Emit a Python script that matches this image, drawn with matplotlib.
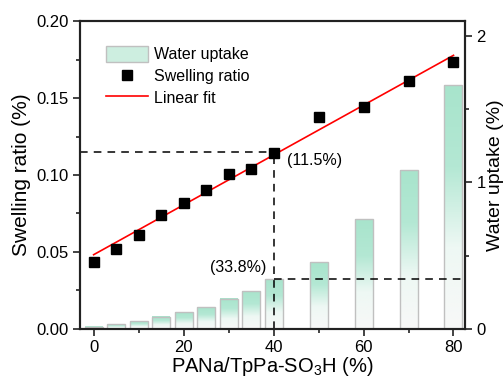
import numpy as np
import matplotlib
matplotlib.use('Agg')
import matplotlib.pyplot as plt
from matplotlib.colors import LinearSegmentedColormap
from matplotlib.patches import Patch
from matplotlib.lines import Line2D
from matplotlib.ticker import MultipleLocator

plt.rcParams['font.family'] = ['Liberation Sans', 'DejaVu Sans']
plt.rcParams['mathtext.fontset'] = 'custom'
plt.rcParams['mathtext.rm'] = 'Liberation Sans'
plt.rcParams['mathtext.it'] = 'Liberation Sans:italic'
plt.rcParams['mathtext.default'] = 'regular'

# データ
ratio = np.array([0, 5, 10, 15, 20, 25, 30, 35, 40, 50, 60, 70, 80])
swelling = np.array([0.0437, 0.052, 0.0612, 0.074, 0.0816, 0.0903, 0.1006,
                     0.1039, 0.1146, 0.1375, 0.1444, 0.161, 0.1734])
water_uptake = np.array([0.016, 0.032, 0.052, 0.084, 0.116, 0.148, 0.207,
                         0.257, 0.338, 0.455, 0.75, 1.083, 1.663])
fit_intercept = 0.0482
fit_slope = 0.00162
fit_x = np.array([0, 80])
mark_x = 40
mark_swelling = 0.115
mark_uptake = 0.338

fig = plt.figure(figsize=(5.04, 3.78), dpi=100)
ax = fig.add_axes([0.159, 0.130, 0.764, 0.814])
ax2 = ax.twinx()

# 棒グラフ（グラデーション）
cmap = LinearSegmentedColormap.from_list('mint', ['#f8f8f8', '#eef8f4', '#b4e8d4', '#a8e4cc'])
grad = np.linspace(0, 1, 100).reshape(-1, 1)
bar_w = 4
for x, h in zip(ratio, water_uptake):
    ax2.imshow(grad, extent=[x - bar_w / 2, x + bar_w / 2, 0, h], origin='lower',
               cmap=cmap, aspect='auto', zorder=1)
    ax2.bar(x, h, width=bar_w, facecolor='none', edgecolor='#c0c0c0', linewidth=1, zorder=2)

ax2.set_xlim(-3, 82.6)
ax2.set_ylim(0, 2.1)
ax.set_xlim(-3, 82.6)
ax.set_ylim(0, 0.2)

# 破線
dash = (0, (5, 4))
ax2.plot([mark_x, 82.6], [mark_uptake, mark_uptake], ls=dash, color='black', lw=1.1, zorder=3)
ax2.text(mark_x - 1.5, mark_uptake + 0.03, '(33.8%)', ha='right', va='bottom', fontsize=11.5)

ax.set_zorder(ax2.get_zorder() + 1)
ax.patch.set_visible(False)
ax.plot([-3, mark_x], [mark_swelling, mark_swelling], ls=dash, color='black', lw=1.1)
ax.plot([mark_x, mark_x], [0, mark_swelling], ls=dash, color='black', lw=1.1)
ax.text(mark_x + 3, mark_swelling - 0.001, '(11.5%)', ha='left', va='top', fontsize=11.5)

ax.plot(fit_x, fit_intercept + fit_slope * fit_x, color='red', lw=1.2, zorder=4)
ax.plot(ratio, swelling, 's', color='black', ms=7, zorder=5)

# 軸の設定
ax.xaxis.set_major_locator(MultipleLocator(20))
ax.xaxis.set_minor_locator(MultipleLocator(10))
ax.yaxis.set_major_locator(MultipleLocator(0.05))
ax.yaxis.set_minor_locator(MultipleLocator(0.025))
ax.yaxis.set_major_formatter(plt.FormatStrFormatter('%.2f'))
ax2.yaxis.set_major_locator(MultipleLocator(1))
ax2.yaxis.set_minor_locator(MultipleLocator(0.5))

for a in (ax, ax2):
    a.tick_params(which='major', direction='out', length=5, width=1.2, labelsize=12,
                  color='#222222', labelcolor='black', pad=3)
    a.tick_params(which='minor', direction='out', length=3, width=1.2, color='#222222')
    for s in a.spines.values():
        s.set_linewidth(1.5)
        s.set_color('#222222')

ax.set_xlabel('PANa/TpPa-SO$_3$H (%)', fontsize=14.5, labelpad=0)
ax.set_ylabel('Swelling ratio (%)', fontsize=15, labelpad=4)
ax2.set_ylabel('Water uptake (%)', fontsize=14, labelpad=1)

# 凡例
handles = [Patch(facecolor='#cdeee0', edgecolor='#c0c0c0'),
           Line2D([], [], marker='s', color='black', ls='none', ms=7),
           Line2D([], [], color='red', lw=1.2)]
labels = ['Water uptake', 'Swelling ratio', 'Linear fit']
ax.legend(handles, labels, loc='upper left', bbox_to_anchor=(0.03, 0.965), frameon=False,
          fontsize=11.5, handlelength=2.6, handleheight=1.1, handletextpad=0.4, labelspacing=0.35)

fig.savefig('out.png', dpi=100)
